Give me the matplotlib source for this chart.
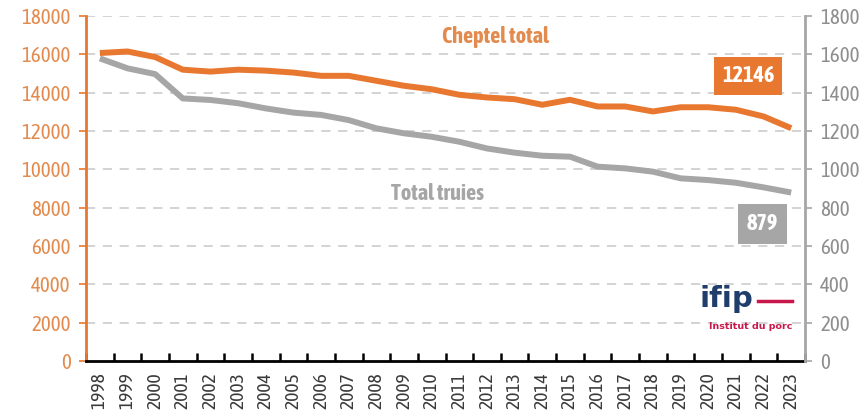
import numpy as np
import matplotlib.pyplot as plt
from matplotlib.ticker import FixedLocator, NullFormatter

years = list(range(1998, 2024))
cheptel = [16070, 16150, 15860, 15200, 15100, 15200, 15150, 15050, 14880, 14880,
           14620, 14360, 14180, 13890, 13750, 13660, 13370, 13630, 13280, 13280,
           13020, 13240, 13240, 13110, 12760, 12146]
truies = [1579, 1527, 1497, 1370, 1362, 1345, 1318, 1296, 1284, 1257,
          1214, 1188, 1170, 1144, 1109, 1087, 1071, 1066, 1014, 1005,
          988, 953, 944, 930, 906, 879]

ORANGE = "#E8782F"
ORANGE_TXT = "#E38B4E"
GREY = "#A6A6A6"
GREY_TXT = "#8E8E8E"

plt.rcParams["font.family"] = ["Asap Condensed", "DejaVu Sans"]

fig = plt.figure(figsize=(8.67, 4.11), dpi=100)
ax = fig.add_axes([0.0992, 0.1217, 0.8293, 0.8393])
ax2 = ax.twinx()

x = np.arange(len(years))
ax.plot(x, cheptel, color=ORANGE, lw=4.3, solid_capstyle="butt", zorder=3)
ax2.plot(x, truies, color=GREY, lw=4.3, solid_capstyle="butt", zorder=3)

ax.set_xlim(-0.5, len(years) - 0.5)
ax.set_ylim(0, 18000)
ax2.set_ylim(0, 1800)
ax.set_yticks(np.arange(0, 18001, 2000))
ax2.set_yticks(np.arange(0, 1801, 200))

# category axis: ticks on boundaries, labels centred
ax.xaxis.set_major_locator(FixedLocator(np.arange(-0.5, len(years), 1)))
ax.xaxis.set_major_formatter(NullFormatter())
ax.xaxis.set_minor_locator(FixedLocator(x))
ax.set_xticklabels([str(y) for y in years], minor=True, rotation=90,
                   fontsize=14, color="#3a3a3a")
ax.tick_params(axis="x", which="major", direction="in", length=6, width=1.8, color="black")
ax.tick_params(axis="x", which="minor", length=0, pad=8)

ax.tick_params(axis="y", direction="out", length=5, width=1.2, color=ORANGE,
               labelcolor=ORANGE_TXT, labelsize=15, pad=6)
ax2.tick_params(axis="y", direction="out", length=5, width=1.2, color=GREY,
                labelcolor=GREY_TXT, labelsize=15, pad=6)

for a in (ax, ax2):
    for side in ("top", "left", "right", "bottom"):
        a.spines[side].set_visible(False)
ax.spines["left"].set_visible(True)
ax.spines["left"].set_color(ORANGE)
ax.spines["left"].set_linewidth(2)
ax.spines["bottom"].set_visible(True)
ax.spines["bottom"].set_color("black")
ax.spines["bottom"].set_linewidth(2)
ax2.spines["right"].set_visible(True)
ax2.spines["right"].set_color(GREY)
ax2.spines["right"].set_linewidth(2)

for v in range(2000, 18001, 2000):
    ax.axhline(v, color="#C8C8C8", lw=1.1, ls=(0, (6, 5)), zorder=1)

ax.text(14.3, 16920, "Cheptel total", color=ORANGE_TXT, fontsize=16,
        fontweight="bold", ha="center", va="center")
ax2.text(12.2, 870, "Total truies", color=GREY, fontsize=16,
         fontweight="bold", ha="center", va="center")

ax.text(23.45, 14880, f"{cheptel[-1]}", color="white", fontsize=16, fontweight="bold",
        ha="center", va="center", zorder=5,
        bbox=dict(boxstyle="square,pad=0.35", fc=ORANGE, ec="none"))
ax2.text(23.95, 715, f"{truies[-1]}", color="white", fontsize=16, fontweight="bold",
         ha="center", va="center", zorder=5,
         bbox=dict(boxstyle="square,pad=0.4", fc=GREY, ec="none"))

# ifip logo
fig.text(0.838, 0.272, "ifip", color="#1F3E6B", fontsize=21, fontweight="bold",
         ha="center", va="center", family="DejaVu Sans")
fig.add_artist(plt.Line2D([0.874, 0.913], [0.268, 0.268], color="#C8174A", lw=2.5))
fig.text(0.866, 0.205, "Institut du porc", color="#C8174A", fontsize=6.8,
         fontweight="bold", ha="center", va="center", family="DejaVu Sans")

fig.savefig("out.png", dpi=100)
